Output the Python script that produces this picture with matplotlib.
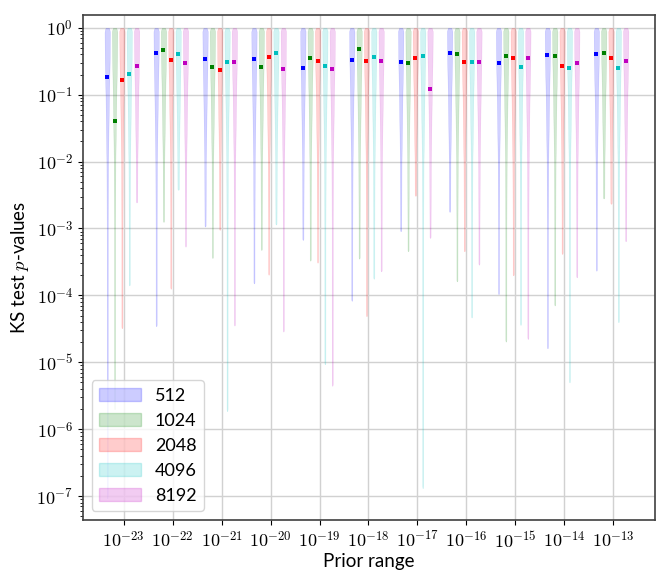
import numpy as np
import matplotlib
matplotlib.use("Agg")
import matplotlib.pyplot as plt
from matplotlib.patches import Patch
from matplotlib.ticker import FuncFormatter

plt.rcParams['font.family'] = ['Lato', 'DejaVu Sans']
plt.rcParams['mathtext.fontset'] = 'cm'

# Prior range exponents (x groups)
prior_exp = [-23, -22, -21, -20, -19, -18, -17, -16, -15, -14, -13]
series_names = ["512", "1024", "2048", "4096", "8192"]
series_colors = ["b", "g", "r", "c", "m"]

# median p-value of each violin, per series
median_512 = [0.183, 0.413, 0.344, 0.344, 0.252, 0.329, 0.303, 0.423, 0.296, 0.386, 0.408]
median_1024 = [0.040, 0.458, 0.261, 0.258, 0.352, 0.480, 0.296, 0.400, 0.382, 0.382, 0.419]
median_2048 = [0.166, 0.333, 0.233, 0.365, 0.318, 0.318, 0.356, 0.310, 0.348, 0.264, 0.348]
median_4096 = [0.205, 0.405, 0.310, 0.413, 0.267, 0.365, 0.373, 0.310, 0.258, 0.249, 0.249]
median_8192 = [0.264, 0.296, 0.310, 0.244, 0.244, 0.318, 0.121, 0.307, 0.348, 0.293, 0.314]

# smallest p-value (log10) of each violin, per series
minlog_512 = [-7.03, -4.46, -2.97, -3.82, -3.17, -4.08, -3.04, -2.75, -3.98, -4.79, -3.63]
minlog_1024 = [-5.70, -2.90, -3.44, -3.32, -3.48, -3.45, -3.34, -3.79, -4.69, -4.15, -2.55]
minlog_2048 = [-4.49, -3.90, -3.02, -3.69, -3.51, -4.31, -2.51, -3.34, -3.70, -3.38, -2.63]
minlog_4096 = [-3.85, -2.42, -5.73, -2.94, -5.03, -3.75, -6.88, -4.33, -4.44, -5.30, -4.40]
minlog_8192 = [-2.61, -3.27, -4.45, -4.54, -5.35, -3.64, -3.14, -3.54, -4.65, -3.73, -3.19]

medians = [median_512, median_1024, median_2048, median_4096, median_8192]
minlogs = [minlog_512, minlog_1024, minlog_2048, minlog_4096, minlog_8192]

# rough outline of a violin: relative width vs decades below 1
profile_depth = [0.0, 0.05, 0.5, 1.0, 2.0, 3.0, 8.0]
profile_width = [0.6, 1.0, 0.9, 0.65, 0.3, 0.2, 0.18]


def make_stats(med, minlog):
    coords = np.logspace(minlog, 0, 200)
    depth = -np.log10(coords)
    vals = np.interp(depth, profile_depth, profile_width)
    vals[0] = vals[0] * 0.5
    return {"coords": coords, "vals": vals, "mean": med, "median": med,
            "min": 10 ** minlog, "max": 1.0}


fig, ax = plt.subplots(figsize=(6.57, 5.72), dpi=100)
fig.subplots_adjust(left=0.126, right=0.997, bottom=0.091, top=0.974)

x = np.arange(len(prior_exp))
for j, (name, color) in enumerate(zip(series_names, series_colors)):
    pos = x + (j - 2) * 0.15 - 0.04
    stats = [make_stats(m, lo) for m, lo in zip(medians[j], minlogs[j])]
    parts = ax.violin(stats, positions=pos, widths=0.11, showextrema=False)
    for body in parts['bodies']:
        body.set_facecolor(color)
        body.set_edgecolor(color)
        body.set_alpha(0.18)
        body.set_linewidth(0.3)
    ax.plot(pos, medians[j], 's', color=color, ms=2.2, mew=0, zorder=3)

ax.set_yscale('log')
ax.set_ylim(4.4e-8, 1.56)
ax.set_xlim(-0.84, 10.86)
ax.set_xticks(x)
ax.set_xticklabels([r'$10^{%d}$' % e for e in prior_exp], fontsize=13)
ax.yaxis.set_major_formatter(FuncFormatter(lambda v, p: r'$10^{%d}$' % round(np.log10(v))))
ax.tick_params(axis='y', labelsize=13)
ax.grid(True, color='0.82', linewidth=1)
ax.set_axisbelow(True)
for sp in ax.spines.values():
    sp.set_color('0.25')
    sp.set_linewidth(1.2)

ax.set_xlabel('Prior range', fontsize=13.5, labelpad=2)
ax.set_ylabel(r'KS test $p$-values', fontsize=13.5)

handles = [Patch(facecolor=c, edgecolor=c, alpha=0.2) for c in series_colors]
ax.legend(handles, series_names, loc='lower left', fontsize=13, handlelength=2.3)

plt.savefig('out.png', dpi=100)
